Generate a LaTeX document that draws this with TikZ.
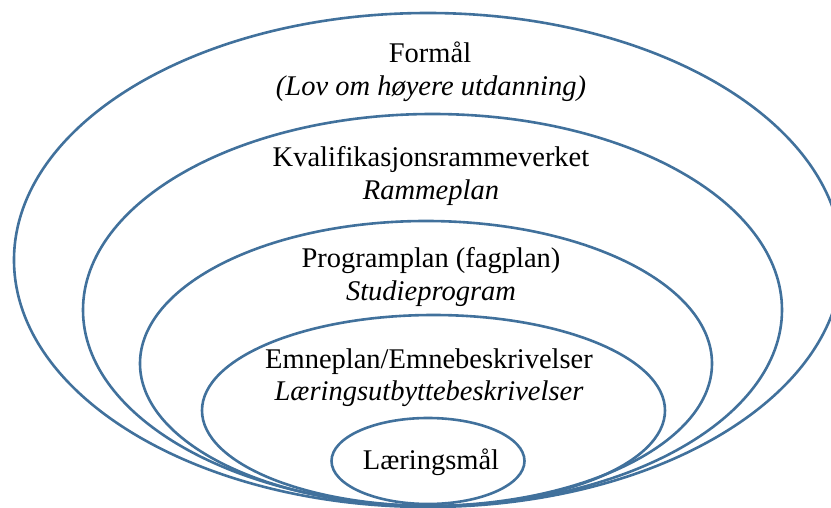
\documentclass[tikz,border=0pt]{standalone}
\usepackage{fontspec}
\setmainfont{Liberation Serif}
\definecolor{ringblue}{HTML}{41719C}
\begin{document}
\begin{tikzpicture}[x=1pt,y=-1pt,
  ring/.style={draw=ringblue,line width=2.6pt},
  lbl/.style={anchor=base,inner sep=0pt,font=\fontsize{28.5}{33}\selectfont},
  ilbl/.style={lbl,font=\fontsize{28.5}{33}\selectfont\itshape}]
\useasboundingbox (0,0) rectangle (831,508);
\clip (0,0) rectangle (831,508);
\draw[ring] (428,260) ellipse [x radius=414, y radius=247];
\draw[ring] (432.5,310) ellipse [x radius=349.5, y radius=196];
\draw[ring] (426,363.5) ellipse [x radius=286, y radius=142.5];
\draw[ring] (433.5,410.5) ellipse [x radius=231.5, y radius=95.5];
\draw[ring] (428,461) ellipse [x radius=96.5, y radius=43];
\node[lbl] (a1) at (430,63) {Formål};
\node[ilbl] (a2) at (431,96) {(Lov om høyere utdanning)};
\node[lbl] (b1) at (431,167) {Kvalifikasjonsrammeverket};
\node[ilbl] (b2) at (431,200) {Rammeplan};
\node[lbl] (c1) at (431,267) {Programplan (fagplan)};
\node[ilbl] (c2) at (431,300) {Studieprogram};
\node[lbl] (d1) at (429,368) {Emneplan/Emnebeskrivelser};
\node[ilbl] (d2) at (429,400) {Læringsutbyttebeskrivelser};
\node[lbl] (e1) at (431,469) {Læringsmål};
\end{tikzpicture}
\end{document}
